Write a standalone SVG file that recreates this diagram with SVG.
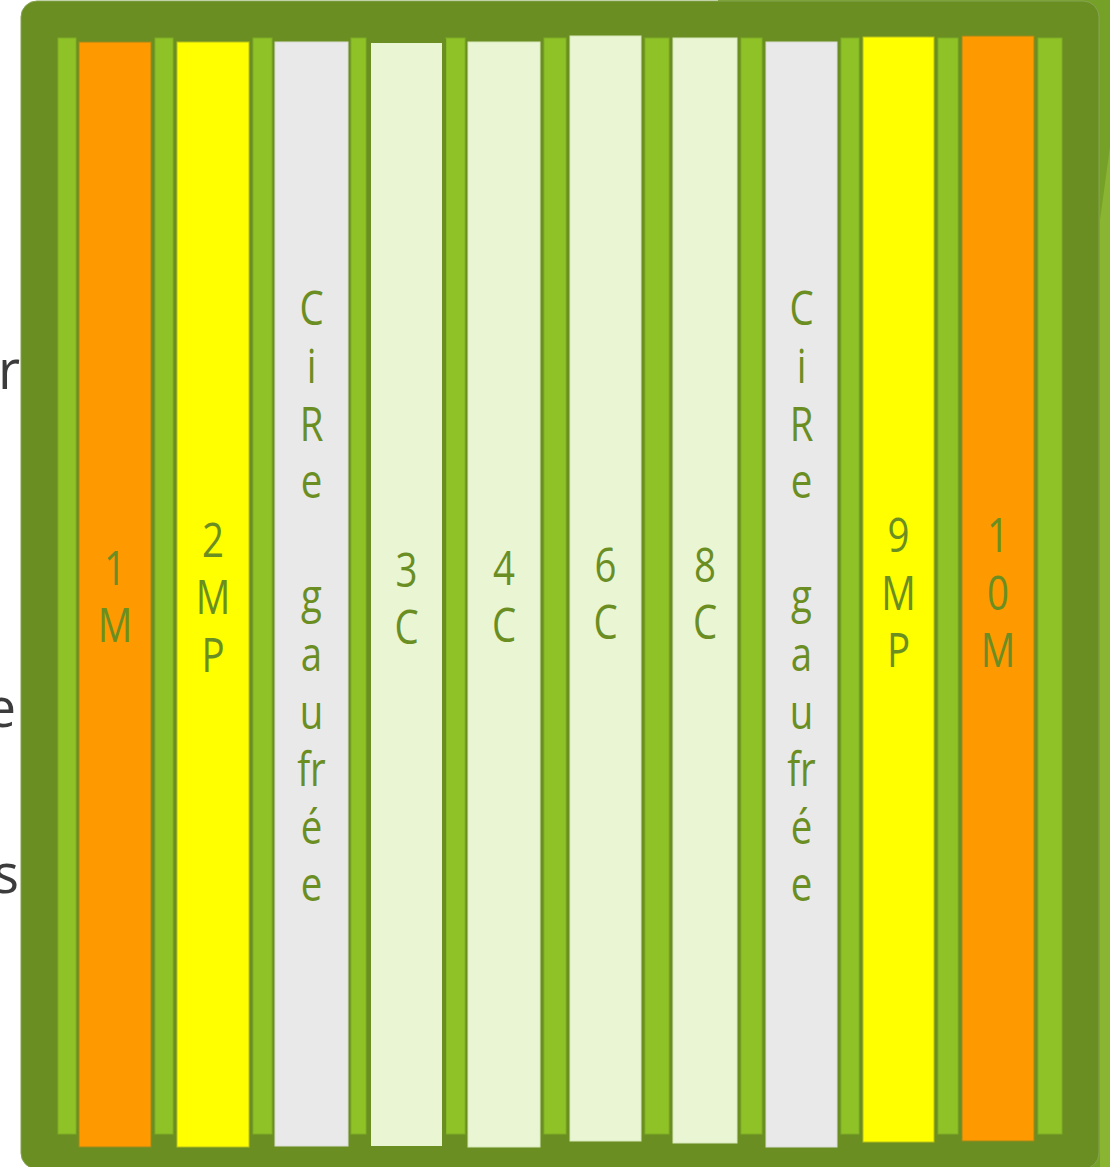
<svg xmlns="http://www.w3.org/2000/svg" width="1110" height="1167" viewBox="0 0 1110 1167">
<style>
.bg{fill:#ffffff}
.frame{fill:#6b8e23;stroke:#86a350;stroke-width:1}
.strip{fill:#8fc227;stroke:#7fae25;stroke-width:1}
.orange{fill:#ff9900;stroke:#a08a1a;stroke-width:1}
.yellow{fill:#ffff00;stroke:#b8c218;stroke-width:1}
.gray{fill:#e9e9e9;stroke:#d9dcd2;stroke-width:1}
.pale{fill:#eaf5d4;stroke:#d6e8b8;stroke-width:1}
.pale-b{fill:#eaf5d4;stroke:#6b8e23;stroke-width:4}
.lbl{font-family:"Open Sans","DejaVu Sans",sans-serif;font-size:48px;fill:#6b8e23;text-anchor:middle}
.side{font-family:"Open Sans","DejaVu Sans",sans-serif;font-size:54px;fill:#3c3c3c;text-anchor:end}
</style>
<rect class="bg" x="0" y="0" width="1110" height="1167"/>
<rect x="718" y="0" width="392" height="1167" fill="#76a128"/>
<polygon points="1110,147 1100,220 1100,1167 1110,1167" fill="#8ab532"/>
<text class="side" x="20" y="389">r</text>
<text class="side" x="16" y="727">e</text>
<text class="side" x="19" y="893">s</text>
<rect class="frame" x="21" y="1" width="1078" height="1168" rx="16"/>
<g id="strips">
<rect class="strip" x="58" y="38" width="18" height="1096"/>
<rect class="strip" x="155" y="38" width="18" height="1096"/>
<rect class="strip" x="253" y="38" width="19" height="1096"/>
<rect class="strip" x="351" y="38" width="15" height="1096"/>
<rect class="strip" x="446" y="38" width="19" height="1096"/>
<rect class="strip" x="544" y="38" width="22" height="1096"/>
<rect class="strip" x="645" y="38" width="24" height="1096"/>
<rect class="strip" x="741" y="38" width="21" height="1096"/>
<rect class="strip" x="841" y="38" width="18" height="1096"/>
<rect class="strip" x="938" y="38" width="20" height="1096"/>
<rect class="strip" x="1038" y="38" width="24" height="1096"/>
</g>
<g id="n1">
<rect class="orange" x="79" y="42" width="72" height="1105"/>
<text class="lbl" transform="translate(115,0) scale(0.8,1)"><tspan x="0" y="585">1</tspan><tspan x="0" y="642">M</tspan></text>
</g>
<g id="n2">
<rect class="yellow" x="177" y="42" width="72" height="1105"/>
<text class="lbl" transform="translate(213,0) scale(0.8,1)"><tspan x="0" y="557">2</tspan><tspan x="0" y="614">M</tspan><tspan x="0" y="672">P</tspan></text>
</g>
<g id="n3">
<rect class="gray" x="275" y="42" width="73" height="1104"/>
<text class="lbl" transform="translate(311.5,0) scale(0.8,1)"><tspan x="0" y="325">C</tspan><tspan x="0" y="383">i</tspan><tspan x="0" y="441">R</tspan><tspan x="0" y="498">e</tspan><tspan x="0" y="613">g</tspan><tspan x="0" y="671">a</tspan><tspan x="0" y="729">u</tspan><tspan x="0" y="786">fr</tspan><tspan x="0" y="844">é</tspan><tspan x="0" y="901">e</tspan></text>
</g>
<g id="n4">
<rect class="pale-b" x="369" y="41" width="75" height="1107"/>
<text class="lbl" transform="translate(406.5,0) scale(0.8,1)"><tspan x="0" y="587">3</tspan><tspan x="0" y="644">C</tspan></text>
</g>
<g id="n5">
<rect class="pale" x="468" y="42" width="72" height="1105"/>
<text class="lbl" transform="translate(504,0) scale(0.8,1)"><tspan x="0" y="585">4</tspan><tspan x="0" y="642">C</tspan></text>
</g>
<g id="n6">
<rect class="pale" x="570" y="36" width="71" height="1105"/>
<text class="lbl" transform="translate(605.5,0) scale(0.8,1)"><tspan x="0" y="582">6</tspan><tspan x="0" y="639">C</tspan></text>
</g>
<g id="n7">
<rect class="pale" x="673" y="38" width="64" height="1105"/>
<text class="lbl" transform="translate(705,0) scale(0.8,1)"><tspan x="0" y="582">8</tspan><tspan x="0" y="639">C</tspan></text>
</g>
<g id="n8">
<rect class="gray" x="766" y="42" width="71" height="1105"/>
<text class="lbl" transform="translate(801.5,0) scale(0.8,1)"><tspan x="0" y="325">C</tspan><tspan x="0" y="383">i</tspan><tspan x="0" y="441">R</tspan><tspan x="0" y="498">e</tspan><tspan x="0" y="613">g</tspan><tspan x="0" y="671">a</tspan><tspan x="0" y="729">u</tspan><tspan x="0" y="786">fr</tspan><tspan x="0" y="844">é</tspan><tspan x="0" y="901">e</tspan></text>
</g>
<g id="n9">
<rect class="yellow" x="863" y="37" width="71" height="1105"/>
<text class="lbl" transform="translate(898.5,0) scale(0.8,1)"><tspan x="0" y="552">9</tspan><tspan x="0" y="610">M</tspan><tspan x="0" y="667">P</tspan></text>
</g>
<g id="n10">
<rect class="orange" x="962" y="36" width="72" height="1105"/>
<text class="lbl" transform="translate(998,0) scale(0.8,1)"><tspan x="0" y="552">1</tspan><tspan x="0" y="610">0</tspan><tspan x="0" y="667">M</tspan></text>
</g>
</svg>
